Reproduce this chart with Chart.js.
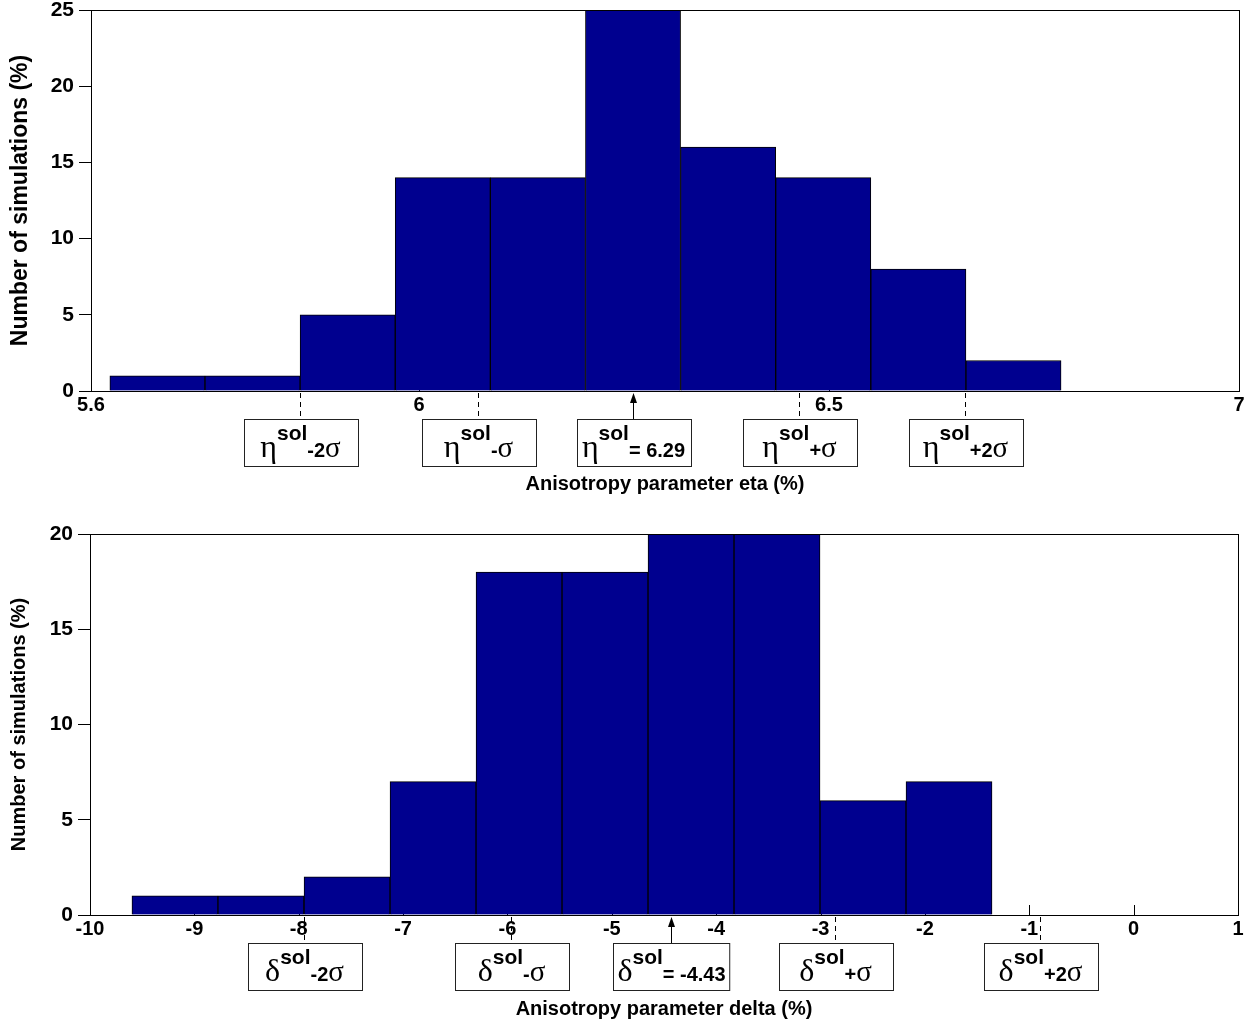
<!DOCTYPE html>
<html lang="en">
<head>
    <meta charset="UTF-8">
    <title>Anisotropy parameter histograms</title>
    <script src="https://cdn.jsdelivr.net/npm/chart.js"></script>
    <style>
        body { margin: 0; background: #fff; }
        .panel { position: absolute; left: 0; width: 1249px; }
        #top { top: 0; height: 500px; }
        #bottom { top: 513px; height: 513px; }
    </style>
</head>
<body>
    <div class="panel" id="top"><canvas id="etaChart"></canvas></div>
    <div class="panel" id="bottom"><canvas id="deltaChart"></canvas></div>

    <script>
        // eta histogram (bin centres, % of simulations)
        const etaBins = [5.681, 5.797, 5.913, 6.029, 6.145, 6.261, 6.377, 6.493, 6.609, 6.725];
        const etaCounts = [1, 1, 5, 14, 14, 25, 16, 14, 8, 2];
        const etaXTicks = [5.6, 6, 6.5, 7];
        const etaYTicks = [0, 5, 10, 15, 20, 25];
        const etaMarks = [5.855, 6.072, 6.261, 6.463, 6.666];
        const etaMarkLabels = ['-2σ', '-σ', '= 6.29', '+σ', '+2σ'];

        // delta histogram
        const deltaBins = [-9.186, -8.362, -7.537, -6.713, -5.889, -5.065, -4.241, -3.417, -2.593, -1.769];
        const deltaCounts = [1, 1, 2, 7, 18, 18, 20, 20, 6, 7];
        const deltaXTicks = [-10, -9, -8, -7, -6, -5, -4, -3, -2, -1, 0, 1];
        const deltaYTicks = [0, 5, 10, 15, 20];
        const deltaMarks = [-7.949, -5.966, -4.433, -2.861, -0.897];
        const deltaMarkLabels = ['-2σ', '-σ', '= -4.43', '+σ', '+2σ'];

        const SANS = '"Liberation Sans", Arial, sans-serif';
        const SERIF = '"Liberation Serif", "Times New Roman", serif';
        Chart.defaults.font.family = SANS;
        Chart.defaults.font.weight = 'bold';
        Chart.defaults.color = '#000';

        // eta^sol-2sigma style label inside a box
        function drawLabel(ctx, cx, top, sym, suffix) {
            const parts = [
                { t: sym, f: '32px ' + SERIF, dy: 0 },
                { t: 'sol', f: 'bold 21px ' + SANS, dy: -17 }
            ];
            suffix.split(/(σ)/).filter(s => s).forEach(s => {
                parts.push({ t: s, f: s === 'σ' ? '29px ' + SERIF : 'bold 20px ' + SANS, dy: 0 });
            });
            let w = 0;
            parts.forEach(p => { ctx.font = p.f; p.w = ctx.measureText(p.t).width; w += p.w; });
            const bw = Math.max(114, w + 8), bh = 47;
            const bx = Math.round(cx - bw / 2) + 0.5;
            ctx.fillStyle = '#fff';
            ctx.fillRect(bx, top + 0.5, bw, bh);
            ctx.strokeStyle = '#222';
            ctx.lineWidth = 1;
            ctx.strokeRect(bx, top + 0.5, bw, bh);
            ctx.fillStyle = '#000';
            ctx.textAlign = 'left';
            ctx.textBaseline = 'alphabetic';
            let xx = cx - w / 2;
            parts.forEach(p => { ctx.font = p.f; ctx.fillText(p.t, xx, top + 38 + p.dy); xx += p.w; });
        }

        const annot = {
            id: 'annot',
            beforeDatasetsDraw(chart) {
                const { ctx, chartArea: a, scales: { x } } = chart;
                ctx.save();
                ctx.strokeStyle = '#000';
                ctx.lineWidth = 1;
                x.ticks.forEach(t => {
                    const px = Math.round(x.getPixelForValue(t.value)) + 0.5;
                    ctx.beginPath();
                    ctx.moveTo(px, a.bottom);
                    ctx.lineTo(px, a.bottom - 10);
                    ctx.stroke();
                });
                ctx.restore();
            },
            afterDraw(chart, args, opts) {
                const { ctx, chartArea: a, scales: { x } } = chart;
                ctx.save();
                // plot frame
                ctx.strokeStyle = '#000';
                ctx.lineWidth = 1;
                ctx.strokeRect(Math.round(a.left) + 0.5, Math.round(a.top) + 0.5,
                    Math.round(a.right - a.left), Math.round(a.bottom - a.top));
                const boxTop = Math.round(a.bottom) + 28;
                opts.marks.forEach((v, i) => {
                    const px = Math.round(x.getPixelForValue(v)) + 0.5;
                    ctx.strokeStyle = '#000';
                    ctx.beginPath();
                    if (i === opts.centre) {
                        ctx.setLineDash([]);
                        ctx.moveTo(px, boxTop);
                        ctx.lineTo(px, a.bottom + 10);
                        ctx.stroke();
                        ctx.fillStyle = '#000';
                        ctx.beginPath();
                        ctx.moveTo(px, a.bottom + 2);
                        ctx.lineTo(px - 3.5, a.bottom + 12);
                        ctx.lineTo(px + 3.5, a.bottom + 12);
                        ctx.closePath();
                        ctx.fill();
                    } else {
                        ctx.setLineDash([5, 4]);
                        ctx.moveTo(px, a.bottom + 2);
                        ctx.lineTo(px, boxTop);
                        ctx.stroke();
                    }
                    ctx.setLineDash([]);
                    drawLabel(ctx, px, boxTop, opts.symbol, opts.labels[i]);
                });
                ctx.restore();
            }
        };

        function makeChart(id, bins, counts, xTicks, yTicks, marks, labels, symbol, cfg) {
            return new Chart(document.getElementById(id), {
                type: 'bar',
                data: {
                    datasets: [{
                        data: bins.map((b, i) => ({ x: b, y: counts[i] })),
                        backgroundColor: '#00008f',
                        borderColor: '#000',
                        borderWidth: 1,
                        borderSkipped: 'bottom',
                        categoryPercentage: 1,
                        barPercentage: 1
                    }]
                },
                options: {
                    responsive: true,
                    maintainAspectRatio: false,
                    animation: false,
                    layout: { padding: { top: cfg.padTop, right: cfg.padRight, left: 0, bottom: 0 } },
                    plugins: {
                        legend: { display: false },
                        tooltip: { enabled: false },
                        annot: { marks: marks, labels: labels, symbol: symbol, centre: 2 }
                    },
                    scales: {
                        x: {
                            type: 'linear',
                            offset: false,
                            min: xTicks[0],
                            max: xTicks[xTicks.length - 1],
                            afterBuildTicks: s => { s.ticks = xTicks.map(v => ({ value: v })); },
                            afterFit: s => { s.height = cfg.xHeight; s.paddingLeft = 0; s.paddingRight = 0; },
                            grid: { display: false, drawTicks: false, offset: false },
                            border: { display: true, color: '#000' },
                            ticks: { padding: 2, maxRotation: 0, autoSkip: false, font: { size: 20, weight: 'bold' },
                                     callback: v => String(v) },
                            title: { display: true, text: cfg.xTitle, font: { size: 20, weight: 'bold' },
                                     padding: { top: 0, bottom: cfg.xTitlePad } }
                        },
                        y: {
                            min: 0,
                            max: yTicks[yTicks.length - 1],
                            afterBuildTicks: s => { s.ticks = yTicks.map(v => ({ value: v })); },
                            afterFit: s => { s.width = cfg.yWidth; s.paddingTop = 0; s.paddingBottom = 0; },
                            grid: { drawOnChartArea: false, drawTicks: true, tickLength: 12, color: '#000' },
                            border: { display: true, color: '#000' },
                            ticks: { padding: 5, font: { size: 21, weight: 'bold' } },
                            title: { display: true, text: 'Number of simulations (%)',
                                     font: { size: cfg.yTitleSize, weight: 'bold' }, padding: { top: 7, bottom: 0 } }
                        }
                    }
                },
                plugins: [annot]
            });
        }

        makeChart('etaChart', etaBins, etaCounts, etaXTicks, etaYTicks, etaMarks, etaMarkLabels, 'η',
            { padTop: 10, padRight: 10, xHeight: 109, yWidth: 91, xTitle: 'Anisotropy parameter eta (%)',
              xTitlePad: 4, yTitleSize: 23 });
        makeChart('deltaChart', deltaBins, deltaCounts, deltaXTicks, deltaYTicks, deltaMarks, deltaMarkLabels, 'δ',
            { padTop: 21, padRight: 11, xHeight: 111, yWidth: 90, xTitle: 'Anisotropy parameter delta (%)',
              xTitlePad: 5, yTitleSize: 20 });
    </script>
</body>
</html>
